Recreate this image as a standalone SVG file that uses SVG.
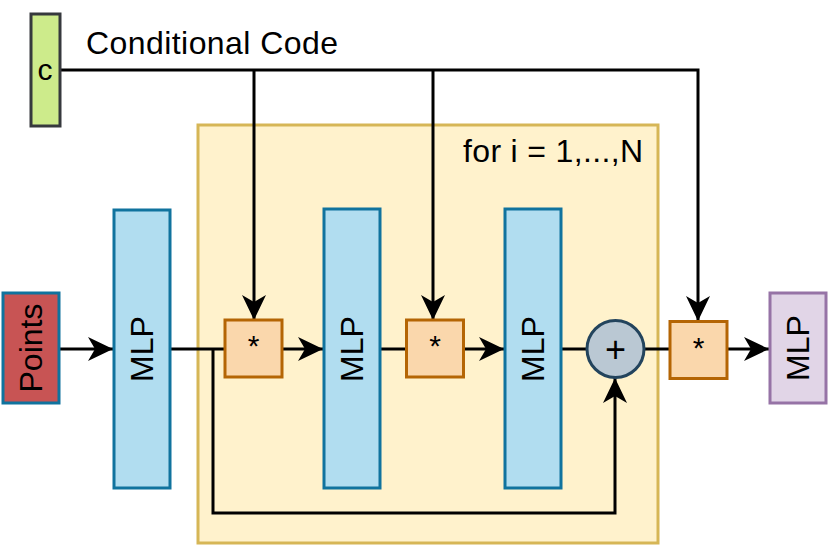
<svg xmlns="http://www.w3.org/2000/svg" width="831" height="551" viewBox="0 0 831 551">
<defs>
<marker id="arr" markerUnits="userSpaceOnUse" markerWidth="26" markerHeight="26" refX="25" refY="12" orient="auto" overflow="visible">
<path d="M25,12 L0,0 L7,12 L0,24 Z" fill="#000"/>
</marker>
<style>
text{font-family:"Liberation Sans",Arial,sans-serif;fill:#000;}
.lbl{font-size:32px;}
.mlp{fill:#b1ddf0;stroke:#10739e;stroke-width:3;}
.mul{fill:#fad7ac;stroke:#b46504;stroke-width:3;}
.edge{fill:none;stroke:#000;stroke-width:3;}
.arrow{marker-end:url(#arr);}
.rot{font-size:32px;text-anchor:middle;}
.star{font-size:30px;text-anchor:middle;}
</style>
</defs>
<rect id="loop" x="198" y="125" width="460" height="418" fill="#fff2cc" stroke="#d6b656" stroke-width="3"/>
<text class="lbl" x="463" y="161.5" textLength="180">for i = 1,...,N</text>
<text class="lbl" x="86" y="54" textLength="252">Conditional Code</text>
<g id="connectors">
<path class="edge arrow" d="M60,70 H698 V321"/>
<path class="edge arrow" d="M254,70 V320"/>
<path class="edge arrow" d="M433,70 V320"/>
<path class="edge arrow" d="M59,349 H113"/>
<path class="edge" d="M171,349 H225"/>
<path class="edge arrow" d="M213,349 V513 H615 V378"/>
<path class="edge arrow" d="M282,349 H323"/>
<path class="edge" d="M380,349 H406"/>
<path class="edge arrow" d="M463,349 H504"/>
<path class="edge" d="M561,349 H587"/>
<path class="edge" d="M644,349 H670"/>
<path class="edge arrow" d="M727,349 H769"/>
</g>
<g id="c">
<rect x="31" y="14" width="29" height="112" fill="#cdeb8b" stroke="#36393d" stroke-width="3"/>
<text x="45" y="80" font-size="30" text-anchor="middle">c</text>
</g>
<g id="points">
<rect x="3" y="293" width="56" height="110" fill="#c85454" stroke="#10739e" stroke-width="3"/>
<text class="rot" transform="translate(31,348) rotate(-90)" dy="11">Points</text>
</g>
<g id="mlp1">
<rect class="mlp" x="114" y="210" width="56" height="278"/>
<text class="rot" transform="translate(142,349) rotate(-90)" dy="11">MLP</text>
</g>
<g id="mul1">
<rect class="mul" x="225" y="320" width="57" height="57"/>
<text class="star" x="253.5" y="356">*</text>
</g>
<g id="mlp2">
<rect class="mlp" x="324" y="209" width="56" height="279"/>
<text class="rot" transform="translate(352,349) rotate(-90)" dy="11">MLP</text>
</g>
<g id="mul2">
<rect class="mul" x="406.5" y="320" width="57" height="57"/>
<text class="star" x="435" y="356">*</text>
</g>
<g id="mlp3">
<rect class="mlp" x="505" y="209" width="56" height="279"/>
<text class="rot" transform="translate(533,349) rotate(-90)" dy="11">MLP</text>
</g>
<g id="plus">
<circle cx="615.5" cy="349" r="28.5" fill="#bac8d3" stroke="#23445d" stroke-width="3"/>
<text x="615.5" y="361.5" font-size="36" text-anchor="middle">+</text>
</g>
<g id="mul3">
<rect class="mul" x="670" y="321.5" width="57" height="57"/>
<text class="star" x="698.5" y="357.5">*</text>
</g>
<g id="mlp-out">
<rect x="770" y="293" width="56" height="110" fill="#e1d5e7" stroke="#9673a6" stroke-width="3"/>
<text class="rot" transform="translate(798,348) rotate(-90)" dy="11">MLP</text>
</g>
</svg>
